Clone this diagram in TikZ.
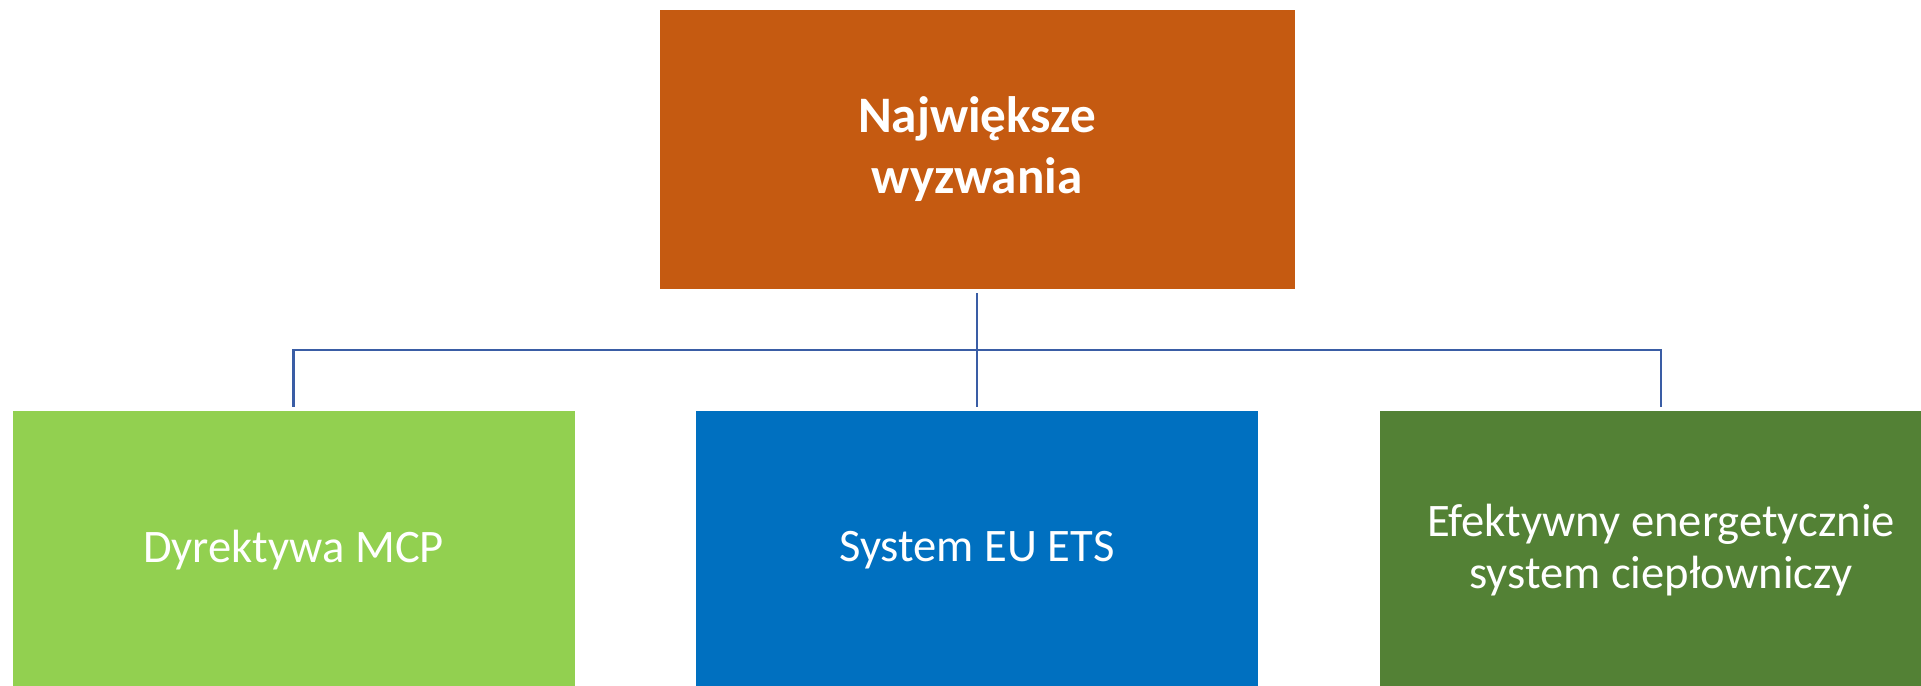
\documentclass[tikz,border=0pt]{standalone}
\usepackage{fontspec}
\setmainfont{Carlito}
\definecolor{orangebox}{HTML}{C55A11}
\definecolor{lightgreen}{HTML}{92D050}
\definecolor{bluebox}{HTML}{0070C0}
\definecolor{darkgreen}{HTML}{538135}
\definecolor{connblue}{HTML}{3A5DA5}
\begin{document}
\begin{tikzpicture}[x=0.5pt,y=-0.5pt,
  box/.style={rectangle, inner sep=0pt, draw=none, text=white, align=center},
  topbox/.style={box, fill=orangebox, minimum width=317.5pt, minimum height=139.5pt,
    font=\fontsize{25.6pt}{30.5pt}\selectfont\bfseries},
  subbox/.style={box, minimum width=281pt, minimum height=139.5pt,
    font=\fontsize{23.3pt}{26pt}\selectfont},
  conn/.style={draw=connblue, line width=1.3pt}]
\useasboundingbox (0,0) rectangle (1921,685);
\clip (0,0) rectangle (1921,685);
\node[topbox] (top) at (977,149.5) {Największe\\wyzwania};
\node[subbox, fill=lightgreen] (b1) at (293.5,550.5) {Dyrektywa MCP};
\node[subbox, fill=bluebox] (b2) at (977,550.5) {System EU ETS};
\node[subbox, fill=darkgreen] (b3) at (1661,550.5) {Efektywny energetycznie\\system ciepłowniczy};
\coordinate (bus) at (977,350);
\draw[conn] ([yshift=-2pt]top.south) -- ([yshift=2pt]b2.north);
\draw[conn] ([yshift=2pt]b1.north) |- (bus) -| ([yshift=2pt]b3.north);
\end{tikzpicture}
\end{document}
